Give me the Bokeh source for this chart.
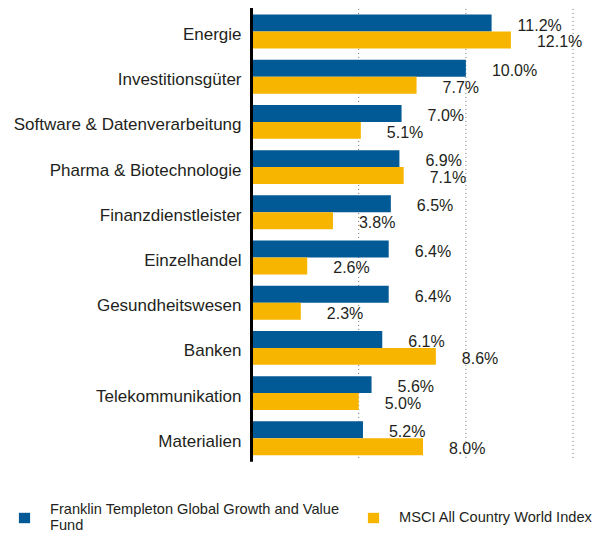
from bokeh.plotting import figure
from bokeh.models import ColumnDataSource, Range1d, Legend, LegendItem
from bokeh.core.properties import value
from bokeh.embed import file_html
from bokeh.resources import INLINE

categories = ["Energie", "Investitionsgüter", "Software & Datenverarbeitung",
              "Pharma & Biotechnologie", "Finanzdienstleister", "Einzelhandel",
              "Gesundheitswesen", "Banken", "Telekommunikation", "Materialien"]
fund = [11.2, 10.0, 7.0, 6.9, 6.5, 6.4, 6.4, 6.1, 5.6, 5.2]
msci = [12.1, 7.7, 5.1, 7.1, 3.8, 2.6, 2.3, 8.6, 5.0, 8.0]
fund_name = "Franklin Templeton Global Growth and Value\nFund"
msci_name = "MSCI All Country World Index"
grid_ticks = [5, 10, 15]

FONT = "Liberation Sans"
BLUE = "#015A96"
YELLOW = "#F8B500"
TEXT = "#231F20"

n = len(categories)
pos = [-i for i in range(n)]          # row position, first category on top
half = 0.1875
bar_h = 0.375

src = ColumnDataSource(dict(
    cat=categories, pos=pos,
    yf=[p_ + half for p_ in pos], ym=[p_ - half for p_ in pos],
    fund=fund, msci=msci,
    fund_lbl=[f"{v:.1f}%" for v in fund],
    msci_lbl=[f"{v:.1f}%" for v in msci],
))

W, H = 594, 536
px_x = 343 / 16.0          # pixels per percent
px_y = 45.2                # pixels per row
x0 = -251 / px_x
y_top = 31 / px_y
y_bot = y_top - H / px_y

p = figure(
    x_range=Range1d(x0, 16.0), y_range=Range1d(y_bot, y_top),
    frame_width=W, frame_height=H, min_border=0,
    output_backend="svg", toolbar_location=None,
)
p.xaxis.visible = False
p.yaxis.visible = False
p.grid.visible = False
p.outline_line_color = None

band_top = 0.5
band_bot = pos[-1] - 0.5

# dotted grid lines
gsrc = ColumnDataSource(dict(x=grid_ticks, y0=[band_top] * len(grid_ticks),
                             y1=[band_bot] * len(grid_ticks)))
p.segment(x0="x", x1="x", y0="y0", y1="y1", source=gsrc,
          line_color="#707070", line_dash="1 3", line_width=1)

r_fund = p.hbar(y="yf", right="fund", left=0, height=bar_h,
                source=src, color=BLUE, line_color=None)
r_msci = p.hbar(y="ym", right="msci", left=0, height=bar_h,
                source=src, color=YELLOW, line_color=None)

# axis line
p.segment(x0=[0], x1=[0], y0=[band_top + 0.02], y1=[band_bot - 0.02],
          line_color="black", line_width=3)

# category labels
p.text(x=0, y="pos", text="cat", source=src, x_offset=-10, y_offset=3,
       text_align="right", text_baseline="middle",
       text_font=value(FONT), text_font_size="17px", text_color=TEXT)

# value labels
p.text(x="fund", y="yf", text="fund_lbl", source=src,
       x_offset=26, y_offset=2, text_align="left", text_baseline="middle",
       text_font=value(FONT), text_font_size="16px", text_color=TEXT)
p.text(x="msci", y="ym", text="msci_lbl", source=src,
       x_offset=26, y_offset=2, text_align="left", text_baseline="middle",
       text_font=value(FONT), text_font_size="16px", text_color=TEXT)

legend = Legend(
    items=[LegendItem(label=fund_name, renderers=[r_fund]),
           LegendItem(label=msci_name, renderers=[r_msci])],
    orientation="horizontal", location=(17, 3),
    glyph_width=14, glyph_height=13, label_standoff=19, spacing=27,
    padding=0, margin=0, border_line_color=None, background_fill_alpha=0,
    label_text_font=FONT, label_text_font_size="14.6px", label_text_color=TEXT,
    label_text_line_height=1.4,
)
p.add_layout(legend, "center")

open("out.html", "w").write(file_html(p, INLINE))
